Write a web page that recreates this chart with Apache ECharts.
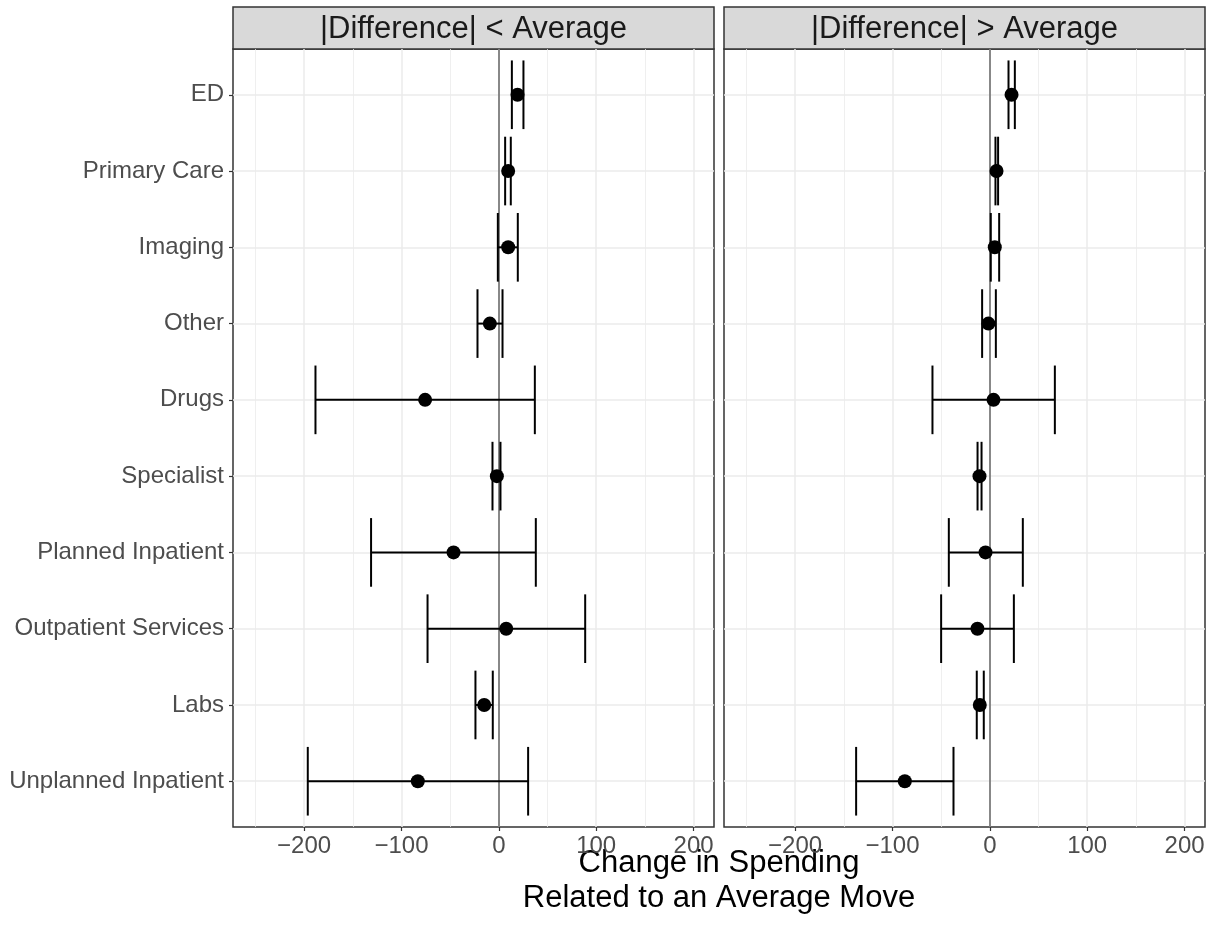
<!DOCTYPE html>
<html>
<head>
<meta charset="utf-8">
<script src="https://cdn.jsdelivr.net/npm/echarts@6/dist/echarts.min.js"></script>
<style>
  html, body { margin: 0; padding: 0; background: #fff; }
  #main { width: 1212px; height: 926px; }
</style>
</head>
<body>
<div id="main"></div>
<script>
// categories, top to bottom
var categories = ['ED', 'Primary Care', 'Imaging', 'Other', 'Drugs', 'Specialist',
  'Planned Inpatient', 'Outpatient Services', 'Labs', 'Unplanned Inpatient'];

var panelTitles = ['|Difference| < Average', '|Difference| > Average'];

// |Difference| < Average
var leftEst = [19.2, 9.6, 9.6, -9.2, -75.7, -2, -46.5, 7.6, -15, -83.2];
var leftLo  = [13.4, 6.5, -1, -21.9, -188.3, -6.5, -131.2, -73.2, -24, -196.2];
var leftHi  = [25.3, 12.3, 19.5, 3.8, 37, 1.7, 38, 88.7, -6.2, 30.1];

// |Difference| > Average
var rightEst = [22.3, 6.9, 5.1, -1.4, 3.8, -10.6, -4.4, -12.7, -10.3, -87.3];
var rightLo  = [19.2, 5.8, 1.0, -7.9, -58.9, -12.6, -42.1, -50, -13.4, -137.3];
var rightHi  = [25.7, 8.5, 9.6, 6.2, 66.8, -8.5, 33.9, 24.7, -6.2, -37.3];

var xTicks = [-200, -100, 0, 100, 200];
var xMinor = [-250, -150, -50, 50, 150];
var yTicks = categories.map(function (c, i) { return i + 1; });

var FONT = 'Liberation Sans';
var chart = echarts.init(document.getElementById('main'));

function minus(v) { return String(v).replace('-', '\u2212'); }

function errorData(lo, hi) {
  return lo.map(function (l, i) { return [i + 1, l, hi[i]]; });
}
function pointData(est) {
  return est.map(function (e, i) { return [e, i + 1]; });
}

function renderBar(params, api) {
  var y = api.value(0);
  var a = api.coord([api.value(1), y]);
  var b = api.coord([api.value(2), y]);
  var h = api.size([0, 0.9])[1] / 2;
  var st = { stroke: '#000', lineWidth: 2 };
  return {
    type: 'group',
    children: [
      { type: 'line', shape: { x1: a[0], y1: a[1], x2: b[0], y2: b[1] }, style: st },
      { type: 'line', shape: { x1: a[0], y1: a[1] - h, x2: a[0], y2: a[1] + h }, style: st },
      { type: 'line', shape: { x1: b[0], y1: b[1] - h, x2: b[0], y2: b[1] + h }, style: st }
    ]
  };
}

var grids = [
  { left: 233, top: 49, width: 481, height: 778 },
  { left: 724, top: 49, width: 481, height: 778 }
];

var xAxis = [], yAxis = [], series = [], graphic = [];
grids.forEach(function (g, k) {
  g.show = true;
  g.borderColor = '#333';
  g.borderWidth = 1.5;
  g.backgroundColor = '#fff';
  // minor grid
  xAxis.push({
    type: 'value', gridIndex: k, min: -273, max: 221, position: 'bottom',
    axisLine: { show: false, onZero: false },
    axisTick: { show: false, customValues: xMinor },
    axisLabel: { show: false, customValues: xMinor },
    splitLine: { show: true, lineStyle: { color: '#EBEBEB', width: 0.8 } }
  });
  // major grid + labels
  xAxis.push({
    type: 'value', gridIndex: k, min: -273, max: 221, position: 'bottom',
    axisLine: { show: false, onZero: false },
    axisTick: { show: true, length: 4, customValues: xTicks, lineStyle: { color: '#333', width: 1.2 } },
    axisLabel: {
      customValues: xTicks, margin: 7, color: '#4D4D4D', fontSize: 24, fontFamily: FONT,
      formatter: minus
    },
    splitLine: { show: true, lineStyle: { color: '#EBEBEB', width: 1.5 } }
  });
  yAxis.push({
    type: 'value', gridIndex: k, min: 0.4, max: 10.6, inverse: true, position: 'left',
    axisLine: { show: false, onZero: false },
    axisTick: { show: k === 0, length: 4, customValues: yTicks, lineStyle: { color: '#333', width: 1.2 } },
    axisLabel: {
      show: k === 0, customValues: yTicks, margin: 9, color: '#4D4D4D', fontSize: 24, fontFamily: FONT,
      padding: [3, 0, 0, 0],
      formatter: function (v) { return categories[Math.round(v) - 1]; }
    },
    splitLine: { show: true, lineStyle: { color: '#EBEBEB', width: 1.5 } }
  });

  var est = k === 0 ? leftEst : rightEst;
  var lo = k === 0 ? leftLo : rightLo;
  var hi = k === 0 ? leftHi : rightHi;

  series.push({
    type: 'custom', xAxisIndex: k * 2 + 1, yAxisIndex: k,
    renderItem: renderBar, data: errorData(lo, hi), z: 3,
    markLine: {
      silent: true, symbol: 'none', label: { show: false },
      lineStyle: { color: '#666', width: 1.5, type: 'solid' },
      data: [{ xAxis: 0 }], z: 2
    }
  });
  series.push({
    type: 'scatter', xAxisIndex: k * 2 + 1, yAxisIndex: k,
    symbolSize: 14, itemStyle: { color: '#000', opacity: 1 },
    data: pointData(est), z: 4
  });

  // facet strip
  graphic.push({
    type: 'rect', shape: { x: g.left, y: 7, width: g.width, height: 42 },
    style: { fill: '#D9D9D9', stroke: '#333', lineWidth: 1.5 }
  });
  graphic.push({
    type: 'text', x: g.left + g.width / 2, y: 29,
    style: {
      text: panelTitles[k], fill: '#1A1A1A', font: '31px "' + FONT + '"',
      textAlign: 'center', textVerticalAlign: 'middle'
    }
  });
});

graphic.push({
  type: 'text', x: 719, y: 881,
  style: {
    text: 'Change in Spending\nRelated to an Average Move', fill: '#000',
    font: '31px "' + FONT + '"', lineHeight: 35,
    textAlign: 'center', textVerticalAlign: 'middle'
  }
});

chart.setOption({
  backgroundColor: '#fff',
  animation: false,
  grid: grids,
  xAxis: xAxis,
  yAxis: yAxis,
  series: series,
  graphic: graphic
});
</script>
</body>
</html>
